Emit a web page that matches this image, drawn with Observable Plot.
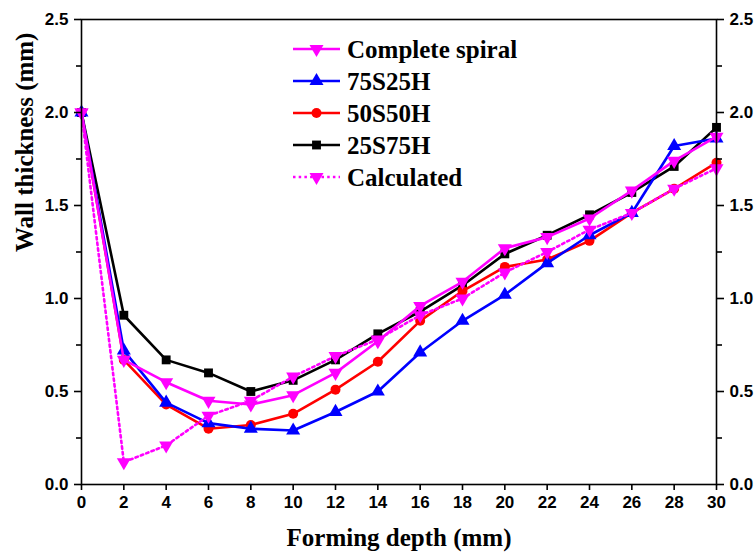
<!DOCTYPE html>
<html>
<head>
<meta charset="utf-8">
<script src="https://cdn.jsdelivr.net/npm/d3@7"></script>
<script src="https://cdn.jsdelivr.net/npm/@observablehq/plot@0.6"></script>
<style>
  html, body { margin: 0; padding: 0; background: #fff; }
  #chart { position: relative; width: 754px; height: 559px; }
</style>
</head>
<body>
<div id="chart"></div>
<script>
const depth = [0, 2, 4, 6, 8, 10, 12, 14, 16, 18, 20, 22, 24, 26, 28, 30];
const seriesNames = ["Complete spiral", "75S25H", "50S50H", "25S75H", "Calculated"];
const completeSpiral = [2.0, 0.67, 0.55, 0.45, 0.43, 0.48, 0.60, 0.77, 0.96, 1.09, 1.27, 1.33, 1.43, 1.58, 1.74, 1.87];
const s75h25 = [2.0, 0.72, 0.44, 0.33, 0.30, 0.29, 0.39, 0.50, 0.71, 0.88, 1.02, 1.19, 1.34, 1.46, 1.82, 1.86];
const s50h50 = [2.0, 0.67, 0.43, 0.30, 0.32, 0.38, 0.51, 0.66, 0.88, 1.04, 1.17, 1.21, 1.31, 1.46, 1.59, 1.73];
const s25h75 = [2.0, 0.91, 0.67, 0.60, 0.50, 0.56, 0.67, 0.81, 0.93, 1.07, 1.24, 1.34, 1.45, 1.57, 1.71, 1.92];
const calculated = [2.0, 0.12, 0.21, 0.37, 0.45, 0.58, 0.69, 0.78, 0.91, 1.00, 1.14, 1.25, 1.37, 1.46, 1.59, 1.70];
const xTicks = [0, 2, 4, 6, 8, 10, 12, 14, 16, 18, 20, 22, 24, 26, 28, 30];
const yTicks = [0.0, 0.5, 1.0, 1.5, 2.0, 2.5];
const yMinorTicks = [0.25, 0.75, 1.25, 1.75, 2.25];
const xLabel = "Forming depth (mm)";
const yLabel = "Wall thickness (mm)";

const triangleDown = {
  draw(ctx, size) {
    const s3 = Math.sqrt(3);
    const y = -Math.sqrt(size / (s3 * 3));
    ctx.moveTo(0, -y * 2);
    ctx.lineTo(-s3 * y, y);
    ctx.lineTo(s3 * y, y);
    ctx.closePath();
  }
};
const triangleUp = {
  draw(ctx, size) {
    const s3 = Math.sqrt(3);
    const y = -Math.sqrt(size / (s3 * 3));
    ctx.moveTo(0, y * 2);
    ctx.lineTo(-s3 * y, -y);
    ctx.lineTo(s3 * y, -y);
    ctx.closePath();
  }
};

const styles = {
  "Complete spiral": {color: "#ff00ff", symbol: triangleDown, r: 5.2, dash: null},
  "75S25H": {color: "#0000ff", symbol: triangleUp, r: 5.2, dash: null},
  "50S50H": {color: "#ff0000", symbol: "circle", r: 5, dash: null},
  "25S75H": {color: "#000000", symbol: "square", r: 5, dash: null},
  "Calculated": {color: "#ff00ff", symbol: triangleDown, r: 5.2, dash: "2.5 3.2"}
};
const values = {
  "Complete spiral": completeSpiral,
  "75S25H": s75h25,
  "50S50H": s50h50,
  "25S75H": s25h75,
  "Calculated": calculated
};
const drawOrder = ["25S75H", "50S50H", "75S25H", "Complete spiral", "Calculated"];

const marks = [];
for (const name of drawOrder) {
  const st = styles[name];
  const rows = depth.map((d, i) => ({x: d, y: values[name][i]}));
  marks.push(Plot.line(rows, {x: "x", y: "y", stroke: st.color, strokeWidth: 2.6, strokeDasharray: st.dash || undefined}));
  marks.push(Plot.dot(rows, {x: "x", y: "y", fill: st.color, stroke: "none", symbol: st.symbol, r: st.r}));
}

const serif = "Liberation Serif, Times New Roman, serif";

const plot = Plot.plot({
  width: 754,
  height: 559,
  marginLeft: 81,
  marginRight: 38,
  marginTop: 19,
  marginBottom: 75,
  style: {fontFamily: "Liberation Sans, Arial, sans-serif", fontSize: "17px", fontWeight: "bold", color: "#000", background: "#fff", overflow: "visible"},
  x: {domain: [0, 30]},
  y: {domain: [0, 2.5]},
  marks: [
    ...marks,
    Plot.frame({stroke: "#000", strokeWidth: 1.6}),
    Plot.axisX({ticks: xTicks, tickSize: 6, tickPadding: 5, tickFormat: d => d, label: null, strokeWidth: 1.6}),
    Plot.axisY({anchor: "left", ticks: yTicks, tickSize: 7, tickPadding: 6, tickFormat: d => d.toFixed(1), label: null, strokeWidth: 1.6}),
    Plot.axisY({anchor: "left", ticks: yMinorTicks, tickSize: 5, tickFormat: () => "", label: null, strokeWidth: 1.6}),
    Plot.axisY({anchor: "right", ticks: yTicks, tickSize: 7, tickPadding: 6, tickFormat: d => d.toFixed(1), label: null, strokeWidth: 1.6}),
    Plot.axisY({anchor: "right", ticks: yMinorTicks, tickSize: 5, tickFormat: () => "", label: null, strokeWidth: 1.6}),
    Plot.text([xLabel], {frameAnchor: "bottom", dy: 61, text: d => d, fontFamily: serif, fontSize: 25, fontWeight: "bold", fill: "#000"}),
    Plot.text([yLabel], {frameAnchor: "left", dx: -57, rotate: -90, text: d => d, fontFamily: serif, fontSize: 25, fontWeight: "bold", fill: "#000"})
  ]
});

document.getElementById("chart").appendChild(plot);

// Legend
const svg = d3.select(plot);
const lg = svg.append("g").attr("class", "legend");
seriesNames.forEach((name, i) => {
  const st = styles[name];
  const cy = 49 + i * 32;
  const g = lg.append("g");
  g.append("line").attr("x1", 293).attr("x2", 340).attr("y1", cy).attr("y2", cy)
    .attr("stroke", st.color).attr("stroke-width", 2.6)
    .attr("stroke-dasharray", st.dash);
  const sym = typeof st.symbol === "string" ? (st.symbol === "circle" ? d3.symbolCircle : d3.symbolSquare) : st.symbol;
  g.append("path").attr("d", d3.symbol(sym, Math.PI * st.r * st.r)())
    .attr("transform", `translate(316.5,${cy})`).attr("fill", st.color);
  g.append("text").attr("x", 347).attr("y", cy).attr("dy", "0.35em")
    .attr("text-anchor", "start")
    .style("font-family", serif)
    .style("font-size", "25px").style("font-weight", "bold").attr("fill", "#000")
    .text(name);
});
</script>
</body>
</html>
